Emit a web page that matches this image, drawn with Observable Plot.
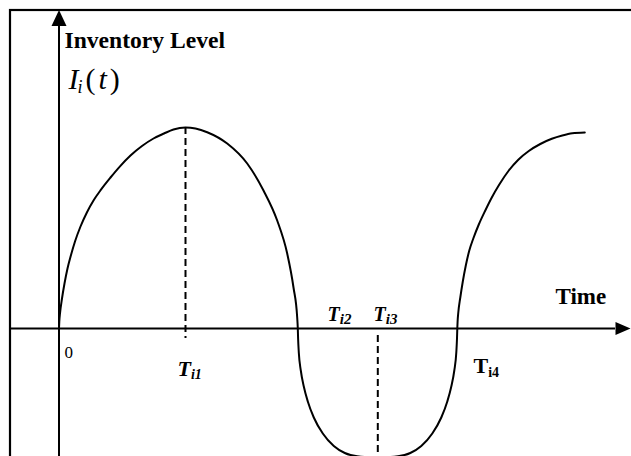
<!DOCTYPE html>
<html><head><meta charset="utf-8">
<script src="https://cdn.jsdelivr.net/npm/d3@7"></script>
<script src="https://cdn.jsdelivr.net/npm/@observablehq/plot@0.6"></script>
<style>html,body{margin:0;padding:0;background:#fff;} svg{display:block}</style>
</head><body><div id="chart"></div>
<script>
// Inventory level curve, sample points (time, level)
const curveT = [
  0, 0.03, 0.1, 0.3, 0.55, 0.85, 1.2, 1.6, 2.15, 2.8, 3.45, 4.2, 5.15, 6.1, 7.15, 8.3, 9.45, 10.5, 11.45, 12.65,
  13.65, 14.82, 16.82, 18.82, 20.45, 21.82, 22.82, 23.45, 23.82, 23.88,
  23.91, 23.98, 24.18, 24.48, 24.88, 25.48, 26.38, 27.48, 28.58, 29.82, 31.86,
  33.89, 35.13, 36.23, 37.33, 38.23, 38.83, 39.23, 39.53, 39.73, 39.8, 39.83,
  39.86, 39.93, 40.13, 40.38, 40.68, 41.03, 41.43, 41.98, 42.63, 43.28, 44.03, 44.98, 45.93, 46.98, 48.13, 49.28, 50.33, 51.33, 52.58];
const curveLevel = [
  0, 0.7, 1.5, 3.0, 4.5, 6.0, 7.35, 8.7, 10.2, 11.63, 12.8, 13.89, 15.1, 16.22, 17.3, 18.25, 19.0, 19.5, 19.9, 20.1,
  20.0, 19.63, 18.5, 16.5, 13.8, 10.8, 7.5, 4.1, 1.1, 0,
  -1.0, -2.4, -4.2, -5.8, -7.3, -8.9, -10.5, -11.75, -12.45, -12.78, -12.9,
  -12.78, -12.45, -11.75, -10.5, -8.9, -7.3, -5.8, -4.2, -2.4, -1.0, 0,
  0.7, 1.6, 3.1, 4.7, 6.3, 7.8, 9.0, 10.4, 11.8, 13.1, 14.4, 15.8, 16.88, 17.75, 18.45, 18.97, 19.3, 19.52, 19.6];

// dashed guide lines at T_i1 (peak) and T_i3 (trough)
const guideT = [12.65, 31.88];
const guideFrom = [20.1, -0.7];
const guideTo = [-1.0, -12.9];

// axes extent (data units)
const timeAxisStart = -4.9, timeAxisEnd = 55.65, timeArrowTip = 57.15;
const levelAxisStart = -12.8, levelAxisEnd = 30.3, levelArrowTip = 31.85;

// labels
const labelText  = ["Inventory Level", "I_i(t)", "0", "T_i1", "T_i2", "T_i3", "T_i4", "Time"];
const labelT     = [0.55, 0.95, 0.55, 11.85, 26.85, 31.45, 41.45, 49.65];
const labelLevel = [28.1, 24.0, -2.9, -4.7, 0.75, 0.75, -4.47, 2.5];

const labelStyle = {
  "Inventory Level": {size: 23.6, weight: "bold", style: "normal"},
  "I_i(t)": {size: 30, weight: "normal", style: "italic", sub: 18, shift: 4},
  "0": {size: 17, weight: "normal", style: "normal"},
  "T_i1": {size: 22, weight: "bold", style: "italic", sub: 14, shift: 3},
  "T_i2": {size: 20, weight: "bold", style: "italic", sub: 15, shift: 3},
  "T_i3": {size: 20, weight: "bold", style: "italic", sub: 15, shift: 3},
  "T_i4": {size: 22, weight: "bold", style: "normal", sub: 14, shift: 4},
  "Time": {size: 23, weight: "bold", style: "normal"}
};

const arrowUp = {draw(ctx) { ctx.moveTo(0, 0); ctx.lineTo(-7.5, 16); ctx.lineTo(7.5, 16); ctx.closePath(); }};
const arrowRight = {draw(ctx) { ctx.moveTo(0, 0); ctx.lineTo(-15, -6.5); ctx.lineTo(-15, 6.5); ctx.closePath(); }};

const curve = curveT.map((t, i) => ({t, level: curveLevel[i]}));
const guides = guideT.map((t, i) => ({t, y1: guideFrom[i], y2: guideTo[i]}));

const plot = Plot.plot({
  width: 631, height: 456,
  marginTop: 0, marginRight: 0, marginBottom: 0, marginLeft: 0,
  style: {background: "#fff", fontFamily: "Liberation Serif", color: "#000"},
  x: {domain: [-5.85, 57.25], axis: null},
  y: {domain: [-12.8, 32.8], axis: null},
  marks: [
    Plot.frame({stroke: "#000", strokeWidth: 2.2, insetLeft: 9.5, insetTop: 9.5, insetRight: -10, insetBottom: -10}),
    Plot.ruleY([0], {x1: timeAxisStart, x2: timeAxisEnd, stroke: "#000", strokeWidth: 2}),
    Plot.ruleX([0], {y1: levelAxisStart, y2: levelAxisEnd, stroke: "#000", strokeWidth: 2}),
    Plot.dot([[timeArrowTip, 0]], {x: d => d[0], y: d => d[1], symbol: arrowRight, fill: "#000", stroke: "none"}),
    Plot.dot([[0, levelArrowTip]], {x: d => d[0], y: d => d[1], symbol: arrowUp, fill: "#000", stroke: "none"}),
    Plot.ruleX(guides, {x: "t", y1: "y1", y2: "y2", stroke: "#000", strokeWidth: 2, strokeDasharray: "7,4"}),
    Plot.line(curve, {x: "t", y: "level", curve: "monotone-x", stroke: "#000", strokeWidth: 2}),
    ...labelText.map((s, i) => {
      const st = labelStyle[s];
      return Plot.text([i], {
        x: j => labelT[j], y: j => labelLevel[j], text: j => labelText[j],
        textAnchor: "start", lineAnchor: "bottom", fill: "#000",
        fontFamily: "Liberation Serif", fontSize: st.size, fontWeight: st.weight, fontStyle: st.style
      });
    })
  ]
});

// subscripts: "X_sub(rest)" -> tspans
d3.select(plot).selectAll("text").each(function() {
  const s = this.textContent;
  const k = s.indexOf("_");
  if (k < 0) return;
  const st = labelStyle[s];
  const m = s.slice(k + 1).match(/^([a-z0-9]+)(.*)$/);
  const el = d3.select(this);
  el.text(null);
  el.append("tspan").text(s.slice(0, k));
  el.append("tspan").attr("font-size", st.sub).attr("dy", st.shift).attr("dx", s.startsWith("I") ? -1 : 0).text(m[1]);
  const rest = m[2];
  let first = true;
  for (const ch of rest) {
    const t = el.append("tspan").text(ch).attr("dx", 3);
    if (first) { t.attr("dy", -st.shift); first = false; }
    t.attr("font-style", /[a-z]/i.test(ch) ? "italic" : "normal");
  }
});

document.getElementById("chart").appendChild(plot);
</script>
</body></html>
